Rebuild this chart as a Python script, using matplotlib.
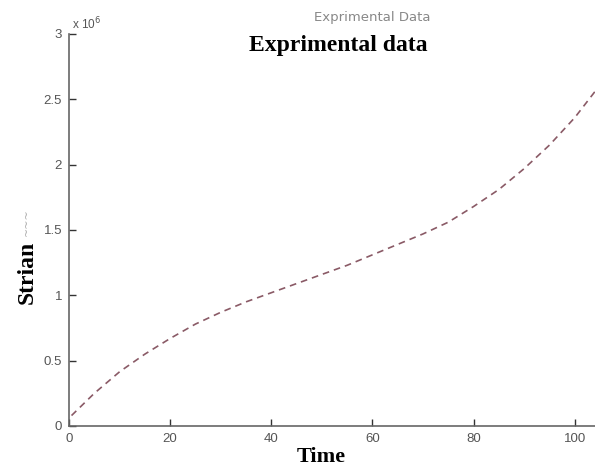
import matplotlib
matplotlib.use('Agg')
import matplotlib.pyplot as plt

# Dane (odkształcenie w jednostkach 1e6)
time = [0.5, 5, 10, 15, 20, 25, 30, 35, 40, 45, 50, 55, 60, 65, 70, 75, 80, 85, 90, 95, 100, 104]
strain_e6 = [0.08, 0.25, 0.415, 0.55, 0.67, 0.78, 0.87, 0.95, 1.02, 1.09, 1.16, 1.23, 1.31, 1.39,
             1.47, 1.56, 1.68, 1.81, 1.97, 2.15, 2.36, 2.56]
xticks = [0, 20, 40, 60, 80, 100]
yticks = [0, 0.5, 1, 1.5, 2, 2.5, 3]
ytick_labels = ['0', '0.5', '1', '1.5', '2', '2.5', '3']

fig = plt.figure(figsize=(5.95, 4.72), dpi=100)
ax = fig.add_axes([69 / 595, 46 / 472, 1 - 69 / 595, (426 - 34) / 472])

ax.plot(time, strain_e6, color='#8a5a66', linestyle=(0, (4, 3)), linewidth=1.2)

ax.set_xlim(0, 104)
ax.set_ylim(0, 3)
ax.set_xticks(xticks)
ax.set_yticks(yticks)
ax.set_yticklabels(ytick_labels)

for side in ['top', 'right']:
    ax.spines[side].set_visible(False)
for side in ['left', 'bottom']:
    ax.spines[side].set_color('#666666')
    ax.spines[side].set_linewidth(1.2)

ax.tick_params(direction='in', length=5, width=1, colors='#333333', labelcolor='#555555',
               labelsize=9.5, pad=5)
for lab in ax.get_xticklabels() + ax.get_yticklabels():
    lab.set_family('Liberation Sans')

# mnożnik osi Y (styl MATLAB)
ax.text(0.005, 1.005, r'x 10$^6$', transform=ax.transAxes, fontsize=8.5, color='#555555',
        family='Liberation Sans', ha='left', va='bottom')

# mały szary tytuł oryginalny
fig.text(372 / 595, 1 - 17 / 472, 'Exprimental Data', fontsize=9.5, color='#888888',
         family='DejaVu Sans', ha='center', va='center')

# pogrubione opisy
fig.text(338 / 595, 1 - 45 / 472, 'Exprimental data', fontsize=17, fontweight='bold',
         family='Liberation Serif', ha='center', va='center')
fig.text(321 / 595, 1 - 457 / 472, 'Time', fontsize=16, fontweight='bold',
         family='Liberation Serif', ha='center', va='center')
fig.text(27 / 595, 1 - 272 / 472, 'Strian', fontsize=17, fontweight='bold',
         family='Liberation Serif', ha='center', va='center', rotation=90)
fig.text(27 / 595, 1 - 222 / 472, '~~~', fontsize=8, color='#aaaaaa',
         family='DejaVu Sans', ha='center', va='center', rotation=90)

fig.savefig('out.png', dpi=100)
